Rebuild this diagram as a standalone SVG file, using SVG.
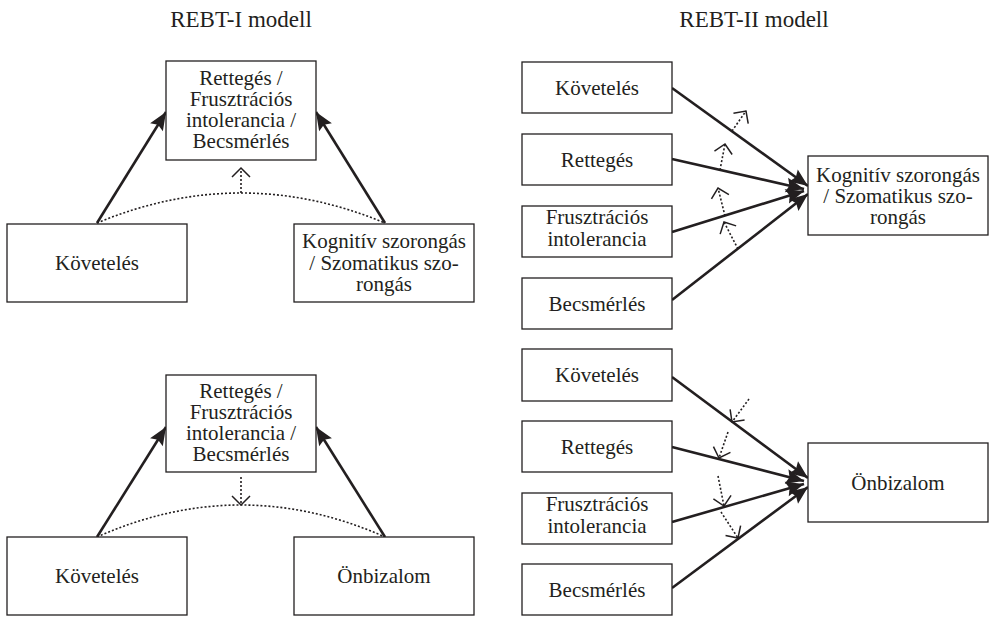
<svg xmlns="http://www.w3.org/2000/svg" width="990" height="617" viewBox="0 0 990 617">
<style>
  .box { fill: #ffffff; stroke: #231f20; stroke-width: 1.3; }
  .solid { stroke: #231f20; stroke-width: 2.6; fill: none; marker-end: url(#head); }
  .dot { stroke: #231f20; stroke-width: 1.6; fill: none; stroke-dasharray: 2 2; }
  .dotarr { stroke: #231f20; stroke-width: 1.6; fill: none; stroke-dasharray: 2 2; marker-end: url(#open); }
</style>
<defs>
  <marker id="head" markerUnits="userSpaceOnUse" markerWidth="22" markerHeight="18" viewBox="0 -9 19 18" refX="18" refY="0" orient="auto">
    <path d="M0,-7.5 L18,0 L0,7.5 L3,0 z" fill="#231f20"/>
  </marker>
  <marker id="open" markerUnits="userSpaceOnUse" markerWidth="14" markerHeight="22" viewBox="-1 -11 12 22" refX="9" refY="0" orient="auto">
    <path d="M0,-9 L9,0 L0,9" fill="none" stroke="#231f20" stroke-width="1.5"/>
  </marker>
</defs>
<rect width="990" height="617" fill="#ffffff"/>

<g font-family="Liberation Serif, Times New Roman, serif" font-size="23" fill="#231f20" text-anchor="middle">
<text x="241" y="27">REBT-I modell</text>
<text x="754" y="27">REBT-II modell</text>
</g>

<g id="connectors">
  <line class="solid" x1="97" y1="223" x2="166" y2="112"/>
  <line class="solid" x1="385" y1="223" x2="316" y2="112"/>
  <path class="dot" d="M97,223 Q241,163 385,223"/>
  <line class="dotarr" x1="241" y1="193" x2="241" y2="168"/>
  <line class="solid" x1="97" y1="537" x2="166" y2="427"/>
  <line class="solid" x1="385" y1="537" x2="316" y2="427"/>
  <path class="dot" d="M97,537 Q241,473 385,537"/>
  <line class="dotarr" x1="241" y1="477" x2="241" y2="505"/>
  <line class="solid" x1="672" y1="88" x2="808" y2="186"/>
  <line class="solid" x1="672" y1="159" x2="804" y2="189"/>
  <line class="solid" x1="672" y1="232" x2="804" y2="191"/>
  <line class="solid" x1="672" y1="300" x2="808" y2="194"/>
  <line class="dotarr" x1="732" y1="131" x2="746" y2="111"/>
  <line class="dotarr" x1="720" y1="170" x2="725" y2="144"/>
  <line class="dotarr" x1="725" y1="216" x2="718" y2="188"/>
  <line class="dotarr" x1="738" y1="249" x2="724" y2="222"/>
  <line class="solid" x1="672" y1="377" x2="808" y2="478"/>
  <line class="solid" x1="672" y1="447" x2="804" y2="481"/>
  <line class="solid" x1="672" y1="522" x2="804" y2="484"/>
  <line class="solid" x1="672" y1="588" x2="808" y2="487"/>
  <line class="dotarr" x1="749" y1="399" x2="732" y2="422"/>
  <line class="dotarr" x1="728" y1="432" x2="719" y2="458"/>
  <line class="dotarr" x1="718" y1="476" x2="724" y2="506"/>
  <line class="dotarr" x1="721" y1="512" x2="738" y2="538"/>
</g>

<g font-family="Liberation Serif, Times New Roman, serif" font-size="21" fill="#231f20" text-anchor="middle">
<g id="n1-top">
  <rect class="box" x="166" y="61" width="150" height="99"/>
  <text x="241" y="85">Rettegés /</text>
  <text x="241" y="106">Frusztrációs</text>
  <text x="241" y="127">intolerancia /</text>
  <text x="241" y="148">Becsmérlés</text>
</g>
<g id="n1-kov">
  <rect class="box" x="7" y="224" width="180" height="78"/>
  <text x="97" y="270">Követelés</text>
</g>
<g id="n1-kog">
  <rect class="box" x="294" y="224" width="180" height="78"/>
  <text x="384" y="248">Kognitív szorongás</text>
  <text x="384" y="269.5">/ Szomatikus szo-</text>
  <text x="384" y="291">rongás</text>
</g>

<g id="n2-top">
  <rect class="box" x="166" y="375" width="150" height="97"/>
  <text x="241" y="398">Rettegés /</text>
  <text x="241" y="419">Frusztrációs</text>
  <text x="241" y="440">intolerancia /</text>
  <text x="241" y="461">Becsmérlés</text>
</g>
<g id="n2-kov">
  <rect class="box" x="7" y="537" width="180" height="78"/>
  <text x="97" y="583">Követelés</text>
</g>
<g id="n2-onb">
  <rect class="box" x="294" y="537" width="180" height="78"/>
  <text x="384" y="583">Önbizalom</text>
</g>

<g id="n3-kov">
  <rect class="box" x="522" y="62" width="150" height="51"/>
  <text x="597" y="95">Követelés</text>
</g>
<g id="n3-ret">
  <rect class="box" x="522" y="134" width="150" height="51"/>
  <text x="597" y="167">Rettegés</text>
</g>
<g id="n3-fru">
  <rect class="box" x="522" y="206" width="150" height="51"/>
  <text x="597" y="224">Frusztrációs</text>
  <text x="597" y="246">intolerancia</text>
</g>
<g id="n3-bec">
  <rect class="box" x="522" y="278" width="150" height="51"/>
  <text x="597" y="311">Becsmérlés</text>
</g>
<g id="n3-kog">
  <rect class="box" x="808" y="156" width="180" height="79"/>
  <text x="898" y="182">Kognitív szorongás</text>
  <text x="898" y="203">/ Szomatikus szo-</text>
  <text x="898" y="224">rongás</text>
</g>

<g id="n4-kov">
  <rect class="box" x="522" y="349" width="150" height="52"/>
  <text x="597" y="382">Követelés</text>
</g>
<g id="n4-ret">
  <rect class="box" x="522" y="421" width="150" height="51"/>
  <text x="597" y="454">Rettegés</text>
</g>
<g id="n4-fru">
  <rect class="box" x="522" y="493" width="150" height="51"/>
  <text x="597" y="511">Frusztrációs</text>
  <text x="597" y="533">intolerancia</text>
</g>
<g id="n4-bec">
  <rect class="box" x="522" y="564" width="150" height="51"/>
  <text x="597" y="597">Becsmérlés</text>
</g>
<g id="n4-onb">
  <rect class="box" x="808" y="443" width="180" height="79"/>
  <text x="898" y="490">Önbizalom</text>
</g>
</g>
</svg>
